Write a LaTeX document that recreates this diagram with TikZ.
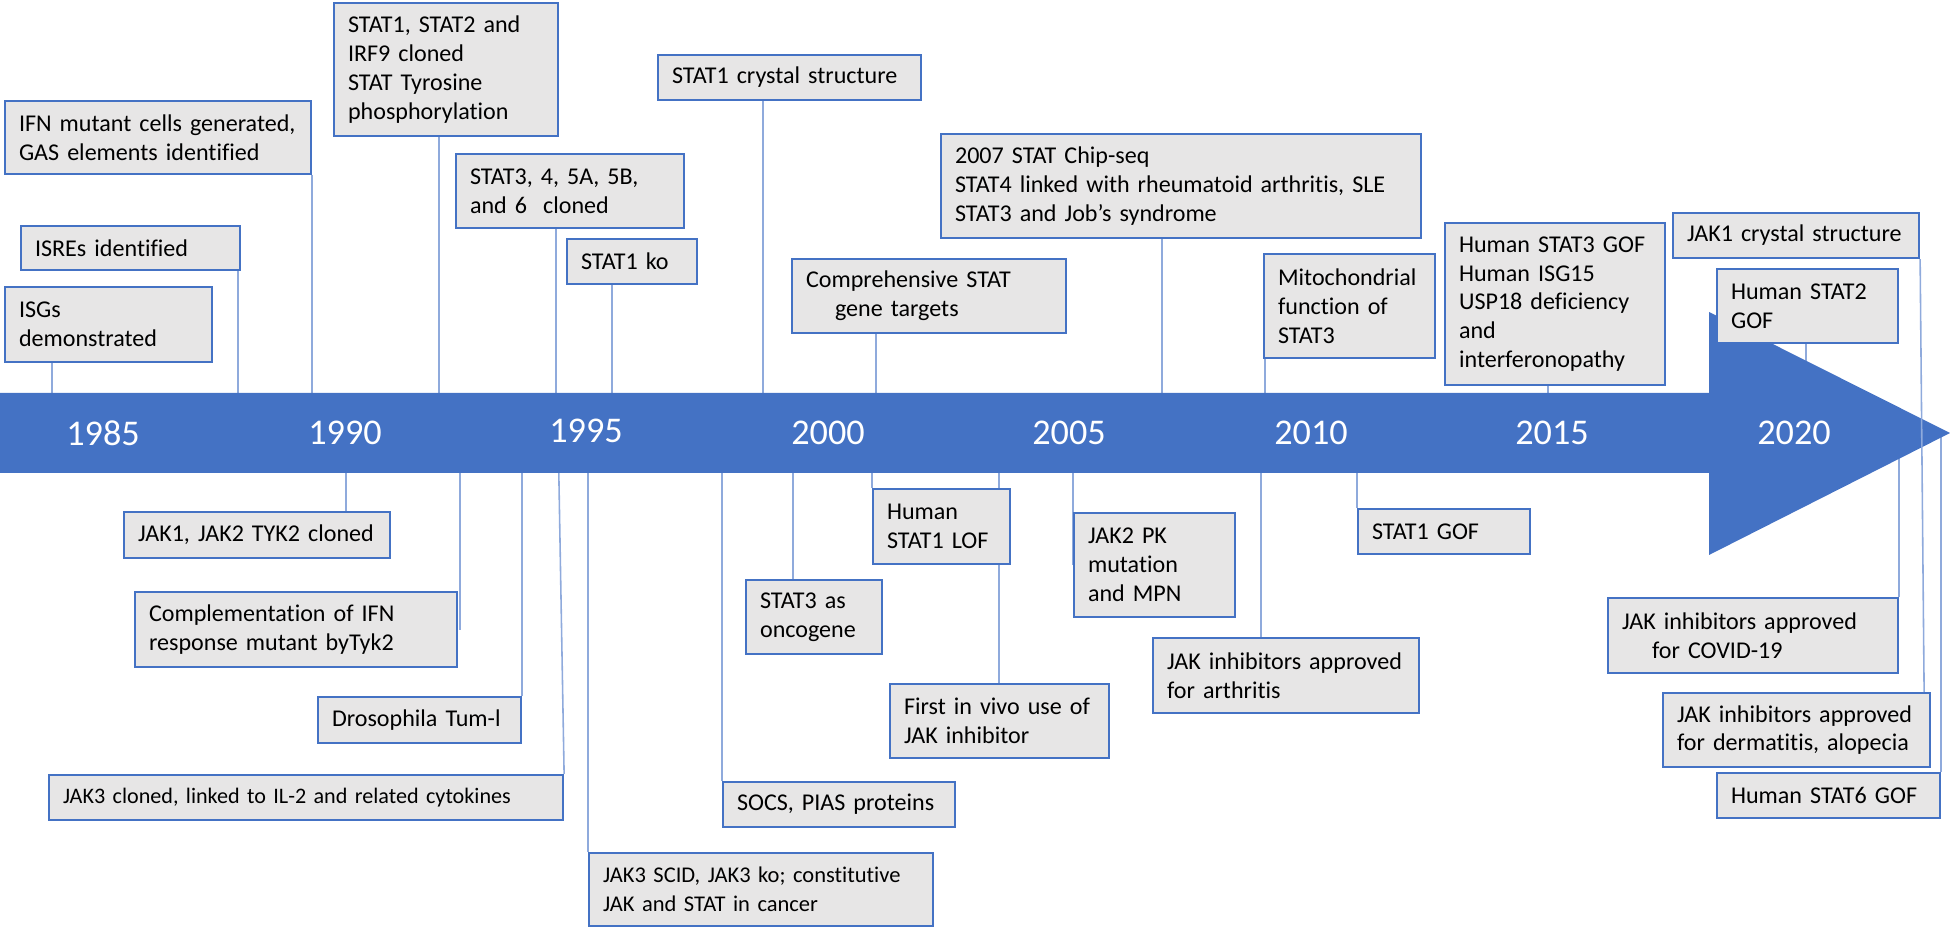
\documentclass[tikz,border=0pt]{standalone}
\usepackage{fontspec}
\setmainfont{Carlito}[Ligatures=NoCommon]
\usetikzlibrary{backgrounds}
\definecolor{jsblue}{HTML}{4472C4}
\definecolor{jsline}{HTML}{8FAADC}
\definecolor{jsgray}{HTML}{E7E6E6}
\begin{document}
\begin{tikzpicture}[x=0.1mm,y=-0.1mm,
  event node/.style={draw=jsblue,fill=jsgray,line width=0.6pt,anchor=north west,align=left,
    inner xsep=1.4mm,inner ysep=0pt,font=\fontsize{6.85}{8.2}\selectfont},
  year node/.style={text=white,font=\fontsize{10.3}{12}\selectfont},
  link line/.style={draw=jsline,line width=0.45pt}]

  \useasboundingbox (0,0) rectangle (1950,927);
  \coordinate (axis) at (0,433);

  \node[year node] (y1985) at (103,433) {1985};
  \node[year node] (y1990) at (345,433) {1990};
  \node[year node] (y1995) at (586,431) {1995};
  \node[year node] (y2000) at (828,433) {2000};
  \node[year node] (y2005) at (1069,433) {2005};
  \node[year node] (y2010) at (1311,433) {2010};
  \node[year node] (y2015) at (1552,433) {2015};
  \node[year node] (y2020) at (1794,433) {2020};

  \node[event node,text width=17.9mm,minimum height=7.5mm] (isg) at (4,286) {ISGs\\demonstrated};
  \node[event node,text width=19.1mm,minimum height=4.4mm] (isre) at (20,225) {ISREs identified};
  \node[event node,text width=27.8mm,minimum height=7.3mm] (ifn) at (4,100) {IFN mutant cells generated,\\GAS elements identified};
  \node[event node,text width=19.6mm,minimum height=13.3mm] (stat12) at (333,2) {STAT1, STAT2 and\\IRF9 cloned\\STAT Tyrosine\\phosphorylation};
  \node[event node,text width=20mm,minimum height=7.4mm] (stat3to6) at (455,153) {STAT3, 4, 5A, 5B,\\and 6\ \ cloned};
  \node[event node,text width=10.2mm,minimum height=4.5mm] (stat1ko) at (566,238) {STAT1 ko};
  \node[event node,text width=23.5mm,minimum height=4.5mm] (s1crys) at (657,54) {STAT1 crystal structure};
  \node[event node,text width=24.6mm,minimum height=7.4mm] (targets) at (791,258) {Comprehensive STAT\\\hspace*{2.9mm}gene targets};
  \node[event node,text width=45.2mm,minimum height=10.4mm] (chip) at (940,133) {2007 STAT Chip-seq\\STAT4 linked with rheumatoid arthritis, SLE\\STAT3 and Job’s syndrome};
  \node[event node,text width=14.3mm,minimum height=10.4mm] (mito) at (1263,253) {Mitochondrial\\function of\\STAT3};
  \node[event node,text width=19.2mm,minimum height=16.2mm] (s3gof) at (1444,222) {Human STAT3 GOF\\Human ISG15\\USP18 deficiency\\and\\interferonopathy};
  \node[event node,text width=21.8mm,minimum height=4.5mm] (jak1crys) at (1672,212) {JAK1 crystal structure};
  \node[event node,text width=15.3mm,minimum height=7.4mm] (s2gof) at (1716,268) {Human STAT2\\GOF};

  \node[event node,text width=23.8mm,minimum height=4.6mm] (jakclone) at (123,511) {JAK1, JAK2 TYK2 cloned};
  \node[event node,text width=29.4mm,minimum height=7.5mm] (tyk2) at (134,591) {Complementation of IFN\\response mutant byTyk2};
  \node[event node,text width=17.5mm,minimum height=4.6mm] (tum) at (317,696) {Drosophila Tum-l};
  \node[event node,text width=49.4mm,minimum height=4.5mm,inner xsep=1mm,font=\fontsize{6.3}{8.2}\selectfont] (jak3) at (48,774) {\hspace*{0.4mm}JAK3 cloned, linked to IL-2 and related cytokines};
  \node[event node,text width=31.6mm,minimum height=7.3mm,font=\fontsize{6.4}{8.2}\selectfont] (scid) at (588,852) {JAK3 SCID, JAK3 ko; constitutive\\JAK and STAT in cancer};
  \node[event node,text width=10.8mm,minimum height=7.4mm] (onco) at (745,579) {STAT3 as\\oncogene};
  \node[event node,text width=20.4mm,minimum height=4.5mm] (socs) at (722,781) {SOCS, PIAS proteins};
  \node[event node,text width=10.9mm,minimum height=7.5mm] (s1lof) at (872,488) {Human\\STAT1 LOF};
  \node[event node,text width=19.1mm,minimum height=7.4mm] (invivo) at (889,683) {First in vivo use of\\JAK inhibitor};
  \node[event node,text width=13.3mm,minimum height=10.4mm] (jak2pk) at (1073,512) {JAK2 PK\\mutation\\and MPN};
  \node[event node,text width=23.8mm,minimum height=7.5mm] (arthr) at (1152,637) {JAK inhibitors approved\\for arthritis};
  \node[event node,text width=14.4mm,minimum height=4.5mm] (s1gof) at (1357,508) {STAT1 GOF};
  \node[event node,text width=26.2mm,minimum height=7.5mm] (covid) at (1607,597) {JAK inhibitors approved\\\hspace*{3mm}for COVID-19};
  \node[event node,text width=23.9mm,minimum height=7.4mm] (derm) at (1662,692) {JAK inhibitors approved\\for dermatitis, alopecia};
  \node[event node,text width=19.5mm,minimum height=4.5mm] (s6gof) at (1716,772) {Human STAT6 GOF};

  \begin{scope}[on background layer]
    \draw[link line] ([xshift=4.8mm]isg.south west) -- ([xshift=4.8mm]isg.south west |- axis);
    \draw[link line] ([xshift=-0.3mm]isre.south east) -- ([xshift=-0.3mm]isre.south east |- axis);
    \draw[link line] (ifn.south east) -- (ifn.south east |- axis);
    \draw[link line] ([xshift=10.6mm]stat12.south west) -- ([xshift=10.6mm]stat12.south west |- axis);
    \draw[link line] ([xshift=10.1mm]stat3to6.south west) -- ([xshift=10.1mm]stat3to6.south west |- axis);
    \draw[link line] ([xshift=4.6mm]stat1ko.south west) -- ([xshift=4.6mm]stat1ko.south west |- axis);
    \draw[link line] ([xshift=10.6mm]s1crys.south west) -- ([xshift=10.6mm]s1crys.south west |- axis);
    \draw[link line] ([xshift=8.5mm]targets.south west) -- ([xshift=8.5mm]targets.south west |- axis);
    \draw[link line] ([xshift=22.2mm]chip.south west) -- ([xshift=22.2mm]chip.south west |- axis);
    \draw[link line] ([xshift=0.2mm]mito.south west) -- ([xshift=0.2mm]mito.south west |- axis);
    \draw[link line] ([xshift=10.4mm]s3gof.south west) -- ([xshift=10.4mm]s3gof.south west |- axis);
    \draw[link line] ([xshift=9mm]s2gof.south west) -- ([xshift=9mm]s2gof.south west |- axis);

    \draw[link line] ([xshift=22.3mm]jakclone.north west |- axis) -- ([xshift=22.3mm]jakclone.north west);
    \draw[link line] ([xshift=0.2mm]tyk2.east |- axis) -- ([xshift=0.2mm]tyk2.east);
    \draw[link line] (tum.north east |- axis) -- (tum.north east);
    \draw[link line] ([xshift=-0.6mm]jak3.north east |- axis) -- (jak3.north east);
    \draw[link line] (scid.north west |- axis) -- (scid.north west);
    \draw[link line] ([xshift=4.8mm]onco.north west |- axis) -- ([xshift=4.8mm]onco.north west);
    \draw[link line] (socs.north west |- axis) -- (socs.north west);
    \draw[link line] (s1lof.north west |- axis) -- (s1lof.north west);
    \draw[link line] ([xshift=11mm]invivo.north west |- axis) -- ([xshift=11mm]invivo.north west);
    \draw[link line] (jak2pk.west |- axis) -- (jak2pk.west);
    \draw[link line] ([xshift=10.9mm]arthr.north west |- axis) -- ([xshift=10.9mm]arthr.north west);
    \draw[link line] (s1gof.north west |- axis) -- (s1gof.north west);
    \draw[link line] (covid.north east |- axis) -- (covid.north east);
    \draw[link line] (s6gof.north east |- axis) -- (s6gof.north east);

    \fill[jsblue] (0,393) -- (1709,393) -- (1709,312) -- (1950,433) -- (1709,555) -- (1709,473) -- (0,473) -- cycle;
  \end{scope}

  \draw[link line] (jak1crys.south east) -- ([xshift=-0.7mm]derm.north east);

\end{tikzpicture}
\end{document}
